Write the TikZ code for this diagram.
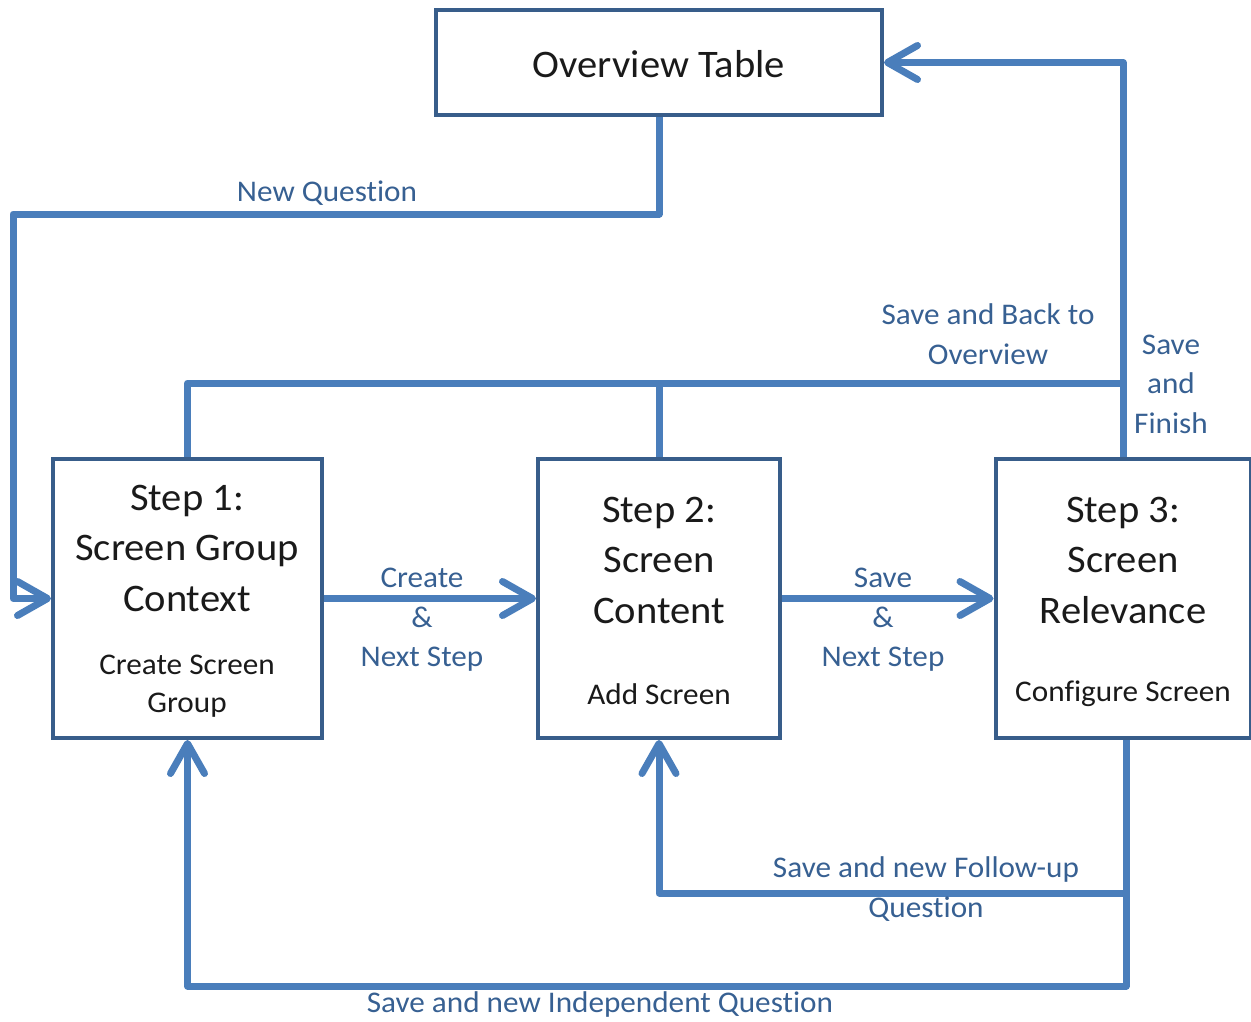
\documentclass[tikz,border=0pt]{standalone}
\usepackage{fontspec}
\setmainfont[Ligatures=NoCommon, FakeStretch=1.04]{Carlito}
\usetikzlibrary{arrows.meta}
\definecolor{linkblue}{HTML}{4A7EBB}
\definecolor{boxblue}{HTML}{385D8A}
\definecolor{labelblue}{HTML}{376092}
\definecolor{boxtext}{HTML}{1A1A1A}
\tikzset{
  stepbox/.style={draw=boxblue, line width=4pt, fill=white, minimum height=279pt, inner sep=0pt},
  bigtext/.style={text=boxtext, align=center, font=\fontsize{39}{50.5}\selectfont, inner sep=0pt},
  subtext/.style={text=boxtext, align=center, font=\fontsize{30}{38.5}\selectfont, inner sep=0pt},
  flowlabel/.style={text=labelblue, align=center, font=\fontsize{30}{39.5}\selectfont, inner sep=0pt},
  conn/.style={draw=linkblue, line width=7pt, line join=round},
  tip/.style={-{Straight Barb[length=30pt,width=34pt,round]}}
}
\begin{document}
\begin{tikzpicture}[x=1pt,y=-1pt]
\useasboundingbox (0,0) rectangle (1251,1022);

% boxes
\node[stepbox, minimum width=446pt, minimum height=105pt] (ov) at (659,62.5) {};
\node[stepbox, minimum width=269pt] (s1) at (187.5,598.5) {};
\node[stepbox, minimum width=242pt] (s2) at (659,598.5) {};
\node[stepbox, minimum width=255pt] (s3) at (1123,598.5) {};
\coordinate (s3out) at ([xshift=3pt]s3.south);

% box texts
\node[bigtext] (ovt) at (659,64) {Overview Table};
\node[bigtext] (s1t) at (187,548) {Step 1:\\Screen Group\\Context};
\node[subtext] (s1s) at (187,686) {Create Screen\\Group};
\node[bigtext] (s2t) at (659,560) {Step 2:\\Screen\\Content};
\node[subtext] (s2s) at (659,694) {Add Screen};
\node[bigtext] (s3t) at (1123,560) {Step 3:\\Screen\\Relevance};
\node[subtext] (s3s) at (1123,694) {Configure Screen};

% connectors
\draw[conn,tip] (ov.south) |- (13,214) |- (s1.west);
\draw[conn,tip] (s1.east) -- (s2.west);
\draw[conn,tip] (s2.east) -- (s3.west);
\draw[conn] (s1.north) |- (s3.north |- 0,383);
\draw[conn] (s2.north) -- (s2.north |- 0,383);
\draw[conn,tip] (s3.north) |- (ov.east);
\draw[conn,tip] (s3out) -- (s3out |- 0,986) -| (s1.south);
\draw[conn,tip] (s3out |- 0,893) -| (s2.south);

% connector labels
\node[flowlabel] (lnew) at (327,193) {New Question};
\node[flowlabel] (lcreate) at (422,620) {Create\\\&\\Next Step};
\node[flowlabel] (lsave) at (883,620) {Save\\\&\\Next Step};
\node[flowlabel] (lback) at (988,334) {Save and Back to\\Overview};
\node[flowlabel] (lfinish) at (1171,384) {Save\\and\\Finish};
\node[flowlabel] (lfollow) at (926,889) {Save and new Follow-up\\Question};
\node[flowlabel] (lindep) at (600,1004) {Save and new Independent Question};
\end{tikzpicture}
\end{document}
